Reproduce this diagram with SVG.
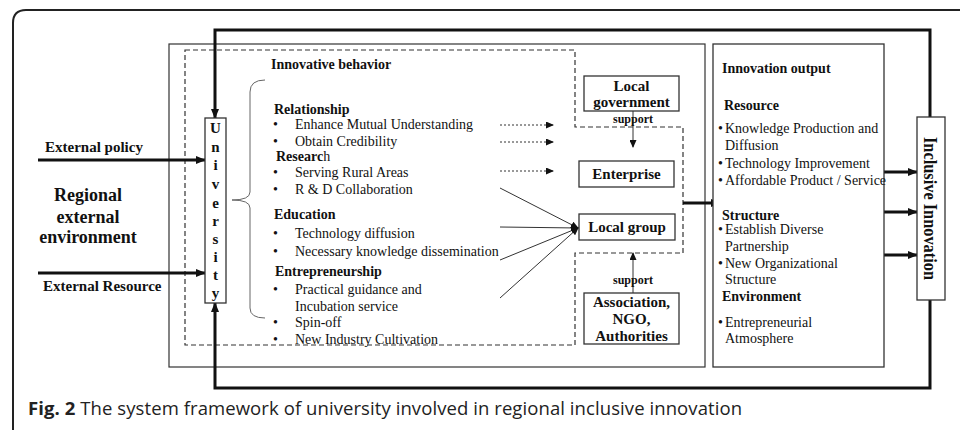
<svg xmlns="http://www.w3.org/2000/svg" width="960" height="430" viewBox="0 0 960 430">
<defs>
<style>
.s{font-family:"Liberation Serif","Times New Roman",serif;fill:#111}
.b{font-weight:bold}
.t14{font-size:14px}
.t15{font-size:15px}
.box{fill:#fff;stroke:#333;stroke-width:1.3}
.thin{fill:none;stroke:#333;stroke-width:1}
.thick{fill:none;stroke:#111;stroke-width:3}
.dash{fill:none;stroke:#333;stroke-width:1.2;stroke-dasharray:5,3}
.dot{fill:none;stroke:#333;stroke-width:1;stroke-dasharray:2,2}
.cap{font-family:"Open Sans","Noto Sans",sans-serif;font-size:18.5px;fill:#222}
</style>
<marker id="ah" markerWidth="10" markerHeight="8" refX="9" refY="4" orient="auto" markerUnits="userSpaceOnUse">
<path d="M0,0 L10,4 L0,8 Z" fill="#111"/>
</marker>
<marker id="as" markerWidth="8" markerHeight="7" refX="7" refY="3.5" orient="auto" markerUnits="userSpaceOnUse">
<path d="M0,0 L8,3.5 L0,7 Z" fill="#111"/>
</marker>
</defs>
<rect width="960" height="430" fill="#fff"/>
<path d="M13,430 V23 Q13,10 26,10 H960" fill="none" stroke="#222" stroke-width="2"/>

<g id="frames">
<rect x="169" y="44" width="536" height="323" fill="none" stroke="#333" stroke-width="1.2"/>
<polygon points="185,50 575,50 575,127 683,127 683,253 575,253 575,345 185,345" class="dash"/>
</g>

<g id="connectors">
<polyline points="930,117 930,30 215,30 215,118" class="thick" marker-end="url(#ah)"/>
<polyline points="930,300 930,388 215,388 215,303" class="thick" marker-end="url(#ah)"/>
<line x1="38" y1="160" x2="205" y2="160" class="thick" stroke-width="2.5" marker-end="url(#ah)"/>
<line x1="38" y1="273" x2="205" y2="273" class="thick" stroke-width="2.5" marker-end="url(#ah)"/>
<line x1="500" y1="125" x2="553" y2="125" class="dot" marker-end="url(#as)"/>
<line x1="500" y1="142" x2="553" y2="142" class="dot" marker-end="url(#as)"/>
<line x1="500" y1="171" x2="553" y2="171" class="dot" marker-end="url(#as)"/>
<line x1="500" y1="188" x2="578" y2="228" class="thin" marker-end="url(#as)"/>
<line x1="500" y1="227" x2="578" y2="228" class="thin" marker-end="url(#as)"/>
<line x1="500" y1="260" x2="578" y2="228" class="thin" marker-end="url(#as)"/>
<line x1="500" y1="298" x2="578" y2="228" class="thin" marker-end="url(#as)"/>
<line x1="633" y1="111" x2="633" y2="147" class="thin" marker-end="url(#as)"/>
<line x1="633" y1="293" x2="633" y2="253" class="thin" marker-end="url(#as)"/>
<line x1="683" y1="203" x2="720" y2="203" class="thick" marker-end="url(#ah)"/>
<line x1="884" y1="172" x2="917" y2="172" class="thick" marker-end="url(#ah)"/>
<line x1="884" y1="212" x2="917" y2="212" class="thick" marker-end="url(#ah)"/>
<line x1="884" y1="255" x2="917" y2="255" class="thick" marker-end="url(#ah)"/>
<path d="M265,80 Q250,80 250,92 V192 Q250,200 232,200 Q250,200 250,208 V308 Q250,318 265,318" fill="none" stroke="#666" stroke-width="1"/>
</g>

<g id="environment" class="s b">
<text x="45" y="152" class="t15">External policy</text>
<text x="88" y="201" font-size="18" text-anchor="middle">Regional</text>
<text x="88" y="223" font-size="18" text-anchor="middle">external</text>
<text x="88" y="243" font-size="18" text-anchor="middle">environment</text>
<text x="43" y="291" class="t15">External Resource</text>
</g>

<g id="university">
<rect x="205" y="118" width="21" height="185" class="box"/>
<g class="s b t15" text-anchor="middle">
<text x="215.5" y="133">U</text>
<text x="215.5" y="152">n</text>
<text x="215.5" y="170">i</text>
<text x="215.5" y="189">v</text>
<text x="215.5" y="208">e</text>
<text x="215.5" y="226">r</text>
<text x="215.5" y="244">s</text>
<text x="215.5" y="262">i</text>
<text x="215.5" y="280">t</text>
<text x="215.5" y="298">y</text>
</g>
</g>

<g id="behavior" class="s t14">
<text x="271" y="69" class="b">Innovative behavior</text>
<text x="274" y="114" class="b">Relationship</text>
<text x="273" y="129">•</text><text x="295" y="129">Enhance Mutual Understanding</text>
<text x="273" y="146">•</text><text x="295" y="146">Obtain Credibility</text>
<text x="276" y="161"><tspan class="b">Researc</tspan>h</text>
<text x="273" y="177">•</text><text x="295" y="177">Serving Rural Areas</text>
<text x="273" y="194">•</text><text x="295" y="194">R &amp; D Collaboration</text>
<text x="274" y="219" class="b">Education</text>
<text x="273" y="238">•</text><text x="295" y="238">Technology diffusion</text>
<text x="273" y="256">•</text><text x="295" y="256">Necessary knowledge dissemination</text>
<text x="275" y="276" class="b">Entrepreneurship</text>
<text x="273" y="294">•</text><text x="295" y="294">Practical guidance and</text>
<text x="295" y="311">Incubation service</text>
<text x="273" y="327">•</text><text x="295" y="327">Spin-off</text>
<text x="273" y="344">•</text><text x="295" y="344">New Industry Cultivation</text>
</g>

<g id="local-government">
<rect x="584" y="76" width="95" height="35" class="box"/>
<text x="631.5" y="91" class="s b t15" text-anchor="middle">Local</text>
<text x="631.5" y="107" class="s b t15" text-anchor="middle">government</text>
<text x="633" y="123" class="s b" font-size="12" text-anchor="middle">support</text>
</g>

<g id="enterprise">
<rect x="579" y="161" width="95" height="26" class="box"/>
<text x="626.5" y="179" class="s b t15" text-anchor="middle">Enterprise</text>
</g>

<g id="local-group">
<rect x="579" y="214" width="96" height="26" class="box"/>
<text x="627" y="232" class="s b t15" text-anchor="middle">Local group</text>
</g>

<g id="association">
<text x="633" y="284" class="s b" font-size="12" text-anchor="middle">support</text>
<rect x="584" y="293" width="95" height="51" class="box"/>
<text x="631.5" y="307" class="s b t15" text-anchor="middle">Association,</text>
<text x="631.5" y="324" class="s b t15" text-anchor="middle">NGO,</text>
<text x="631.5" y="341" class="s b t15" text-anchor="middle">Authorities</text>
</g>

<g id="innovation-output">
<rect x="713" y="44" width="171" height="323" class="box"/>
<g class="s t14">
<text x="722" y="73" class="b">Innovation output</text>
<text x="724" y="110" class="b">Resource</text>
<text x="718" y="133">•</text><text x="725" y="133">Knowledge Production and</text>
<text x="725" y="150">Diffusion</text>
<text x="718" y="168">•</text><text x="725" y="168">Technology Improvement</text>
<text x="718" y="185">•</text><text x="725" y="185">Affordable Product / Service</text>
<text x="722" y="220" class="b">Structure</text>
<text x="718" y="234">•</text><text x="725" y="234">Establish Diverse</text>
<text x="725" y="251">Partnership</text>
<text x="718" y="268">•</text><text x="725" y="268">New Organizational</text>
<text x="725" y="284">Structure</text>
<text x="722" y="301" class="b">Environment</text>
<text x="718" y="327">•</text><text x="725" y="327">Entrepreneurial</text>
<text x="725" y="343">Atmosphere</text>
</g>
</g>

<g id="inclusive-innovation">
<rect x="917" y="117" width="28" height="183" class="box"/>
<text transform="translate(924,208.5) rotate(90)" class="s b" font-size="19" text-anchor="middle" textLength="143" lengthAdjust="spacingAndGlyphs">Inclusive Innovation</text>
</g>

<text x="28" y="415" class="cap" textLength="714"><tspan font-weight="bold">Fig. 2</tspan> The system framework of university involved in regional inclusive innovation</text>
</svg>
